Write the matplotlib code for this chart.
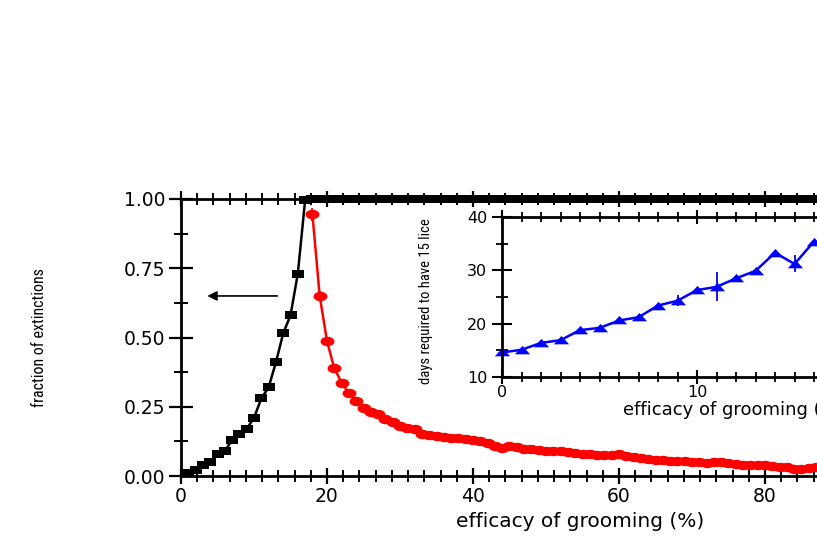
import matplotlib
matplotlib.use("Agg")
import matplotlib.pyplot as plt
from matplotlib.ticker import MultipleLocator, AutoMinorLocator, FormatStrFormatter
from matplotlib import font_manager
import numpy as np

# ---------------- data ----------------
# main panel: fraction of extinctions (black) vs efficacy of grooming (%)
black_x = list(range(1, 89))
black_y = [0.01, 0.02, 0.04, 0.05, 0.08, 0.09, 0.13, 0.15, 0.17, 0.21,
           0.28, 0.32, 0.41, 0.515, 0.58, 0.73, 0.995,
           1.0, 1.0, 1.0, 1.0, 1.0, 1.0, 1.0, 1.0, 1.0, 1.0,
           1.0, 1.0, 1.0, 1.0, 1.0, 1.0, 1.0, 1.0, 1.0, 1.0,
           1.0, 1.0, 1.0, 1.0, 1.0, 1.0, 1.0, 1.0, 1.0, 1.0,
           1.0, 1.0, 1.0, 1.0, 1.0, 1.0, 1.0, 1.0, 1.0, 1.0,
           1.0, 1.0, 1.0, 1.0, 1.0, 1.0, 1.0, 1.0, 1.0, 1.0,
           1.0, 1.0, 1.0, 1.0, 1.0, 1.0, 1.0, 1.0, 1.0, 1.0,
           1.0, 1.0, 1.0, 1.0, 1.0, 1.0, 1.0, 1.0, 1.0, 1.0, 1.0]

# red series (second quantity, drawn on the same frame)
red_x = list(range(18, 89))
red_y = [0.945, 0.650, 0.487, 0.389, 0.337, 0.299, 0.271, 0.245, 0.232, 0.223,
         0.205, 0.195, 0.182, 0.175, 0.168, 0.152, 0.148, 0.144, 0.141, 0.138,
         0.136, 0.133, 0.130, 0.127, 0.118, 0.108, 0.102, 0.110, 0.104, 0.099,
         0.097, 0.093, 0.091, 0.092, 0.090, 0.088, 0.084, 0.081, 0.078, 0.076,
         0.077, 0.076, 0.078, 0.072, 0.067, 0.064, 0.061, 0.058, 0.057, 0.055,
         0.054, 0.055, 0.052, 0.049, 0.046, 0.049, 0.052, 0.047, 0.043, 0.041,
         0.040, 0.040, 0.039, 0.037, 0.034, 0.031, 0.027, 0.025, 0.028, 0.034,
         0.033]
red_err = [0.024, 0.018, 0.015, 0.010, 0.008, 0.006, 0.005, 0.005, 0.004, 0.004,
           0.004, 0.004, 0.004, 0.004, 0.004, 0.004, 0.004, 0.004, 0.004, 0.004,
           0.004, 0.004, 0.004, 0.004, 0.004, 0.004, 0.004, 0.004, 0.004, 0.004,
           0.004, 0.004, 0.004, 0.004, 0.004, 0.004, 0.004, 0.004, 0.004, 0.004,
           0.004, 0.004, 0.004, 0.004, 0.004, 0.004, 0.004, 0.004, 0.004, 0.004,
           0.004, 0.004, 0.004, 0.004, 0.004, 0.004, 0.004, 0.004, 0.004, 0.004,
           0.004, 0.004, 0.004, 0.004, 0.004, 0.004, 0.004, 0.004, 0.004, 0.004,
           0.004]

# inset: days required to have 15 lice
blue_x = list(range(0, 17))
blue_y = [14.6, 15.1, 16.4, 16.9, 18.8, 19.2, 20.6, 21.2, 23.4, 24.3,
          26.3, 26.9, 28.5, 29.9, 33.3, 31.2, 35.4]
blue_err = [0.3, 0.3, 0.3, 0.3, 0.3, 0.3, 0.3, 0.3, 0.3, 1.0,
            0.3, 2.7, 0.4, 0.3, 0.3, 1.6, 0.3]

main_xticks = [0, 20, 40, 60, 80, 100]
main_yticks = [0.00, 0.25, 0.50, 0.75, 1.00]
inset_xticks = [0, 10, 20]
inset_yticks = [10, 20, 30, 40]

# ---------------- fonts ----------------
def find_narrow():
    prefs = ["Liberation Sans Narrow", "Roboto Condensed", "Open Sans Condensed",
             "Noto Sans Condensed", "DejaVu Sans Condensed"]
    fl = font_manager.fontManager.ttflist
    for p in prefs:
        for f in fl:
            if f.name == p and f.style == "normal" and f.weight in (400, "normal", "regular"):
                return font_manager.FontProperties(fname=f.fname)
    for f in fl:
        if f.stretch in ("condensed", "semi-condensed", "extra-condensed") \
                and f.style == "normal" and f.weight in (400, "normal", "regular"):
            return font_manager.FontProperties(fname=f.fname)
    for f in fl:
        if ("Condensed" in f.fname or "Narrow" in f.fname) and "Bold" not in f.fname \
                and "Italic" not in f.fname and "Light" not in f.fname:
            return font_manager.FontProperties(fname=f.fname)
    return font_manager.FontProperties(family="Liberation Sans")

NARROW_FP = find_narrow()

# ---------------- markers ----------------
rect_marker = [(-1, -0.6), (1, -0.6), (1, 0.6), (-1, 0.6), (-1, -0.6)]
t = np.linspace(0, 2 * np.pi, 40)
ell_marker = list(zip(np.cos(t), 0.68 * np.sin(t)))
tri_marker = [(-1, -0.5), (1, -0.5), (0, 0.6), (-1, -0.5)]

W, H = 817, 545
fig = plt.figure(figsize=(W / 100, H / 100), dpi=100)
fig.patch.set_facecolor("white")

TICKFAM = "DejaVu Sans"

# ---------------- main axes ----------------
ax = fig.add_axes([181 / W, 1 - 476 / H, 730 / W, 277 / H])
ax.set_xlim(0, 100)
ax.set_ylim(0, 1)

ax.plot(black_x, black_y, color="black", lw=1.8, marker=rect_marker,
        markersize=9, markeredgewidth=0, clip_on=False, zorder=3)
ax.errorbar(red_x, red_y, yerr=red_err, color="red", lw=1.8,
            marker=ell_marker, markersize=10, markeredgewidth=0,
            ecolor="red", elinewidth=1.3, capsize=5, capthick=1.3, zorder=2)

ax.annotate("", xy=(3.6, 0.65), xytext=(13.2, 0.65),
            arrowprops=dict(arrowstyle="-|>", color="black", lw=1.2,
                            mutation_scale=14, shrinkA=0, shrinkB=0))

ax.set_xticks(main_xticks)
ax.set_yticks(main_yticks)
ax.xaxis.set_minor_locator(AutoMinorLocator(9))
ax.yaxis.set_minor_locator(AutoMinorLocator(2))
ax.yaxis.set_major_formatter(FormatStrFormatter("%.2f"))
ax.tick_params(axis="x", which="major", direction="inout", length=12, width=1.6,
               top=True, pad=2)
ax.tick_params(axis="x", which="minor", direction="inout", length=8, width=1.4,
               top=True)
ax.tick_params(axis="y", which="major", direction="inout", length=17, width=1.6,
               right=False, pad=3)
ax.tick_params(axis="y", which="minor", direction="inout", length=10, width=1.4,
               right=False)
for lab in ax.get_xticklabels() + ax.get_yticklabels():
    lab.set_fontfamily(TICKFAM)
    lab.set_fontsize(13.5)
for s in ["left", "bottom", "top"]:
    ax.spines[s].set_linewidth(2)
ax.spines["right"].set_visible(False)

ax.set_xlabel("efficacy of grooming (%)", fontsize=14.5, family=TICKFAM)
ax.xaxis.set_label_coords((580 - 181) / 730, (476 - 512) / 277)

ylab_main = fig.text(40 / W, 1 - 338 / H, "fraction of extinctions", rotation=90,
                     ha="center", va="center", fontproperties=NARROW_FP)

# ---------------- inset ----------------
axin = fig.add_axes([502 / W, 1 - 377 / H, 390 / W, 160 / H])
axin.set_facecolor("white")
axin.set_xlim(0, 20)
axin.set_ylim(10, 40)
axin.errorbar(blue_x, blue_y, yerr=blue_err, color="blue", lw=1.8,
              marker=tri_marker, markersize=11, markeredgewidth=0,
              ecolor="blue", elinewidth=1.3, capsize=4, capthick=1.3,
              clip_on=False)
axin.set_xticks(inset_xticks)
axin.set_yticks(inset_yticks)
axin.xaxis.set_minor_locator(MultipleLocator(1))
axin.yaxis.set_minor_locator(MultipleLocator(5))
axin.tick_params(axis="x", which="major", direction="inout", length=10, width=1.5,
                 top=True, pad=0.5)
axin.tick_params(axis="x", which="minor", direction="inout", length=7, width=1.3,
                 top=True)
axin.tick_params(axis="y", which="major", direction="inout", length=15, width=1.5,
                 right=False, pad=3)
axin.tick_params(axis="y", which="minor", direction="inout", length=8, width=1.3,
                 right=False)
for lab in axin.get_xticklabels() + axin.get_yticklabels():
    lab.set_fontfamily(TICKFAM)
    lab.set_fontsize(11.5)
for s in ["left", "bottom", "top"]:
    axin.spines[s].set_linewidth(2)
axin.spines["right"].set_visible(False)
axin.set_xlabel("efficacy of grooming (%)", fontsize=13, family=TICKFAM)
axin.xaxis.set_label_coords((734 - 502) / 390, (377 - 401) / 160)

ylab_in = fig.text(426 / W, 1 - 301 / H, "days required to have 15 lice", rotation=90,
                   ha="center", va="center", fontproperties=NARROW_FP.copy())

# scale the narrow labels so that their length matches the reference
fig.canvas.draw()
renderer = fig.canvas.get_renderer()
for txt, target in [(ylab_main, 139.0), (ylab_in, 165.0)]:
    txt.set_fontsize(12)
    h = txt.get_window_extent(renderer).height
    txt.set_fontsize(12 * target / h)

fig.savefig("out.png", dpi=100)
